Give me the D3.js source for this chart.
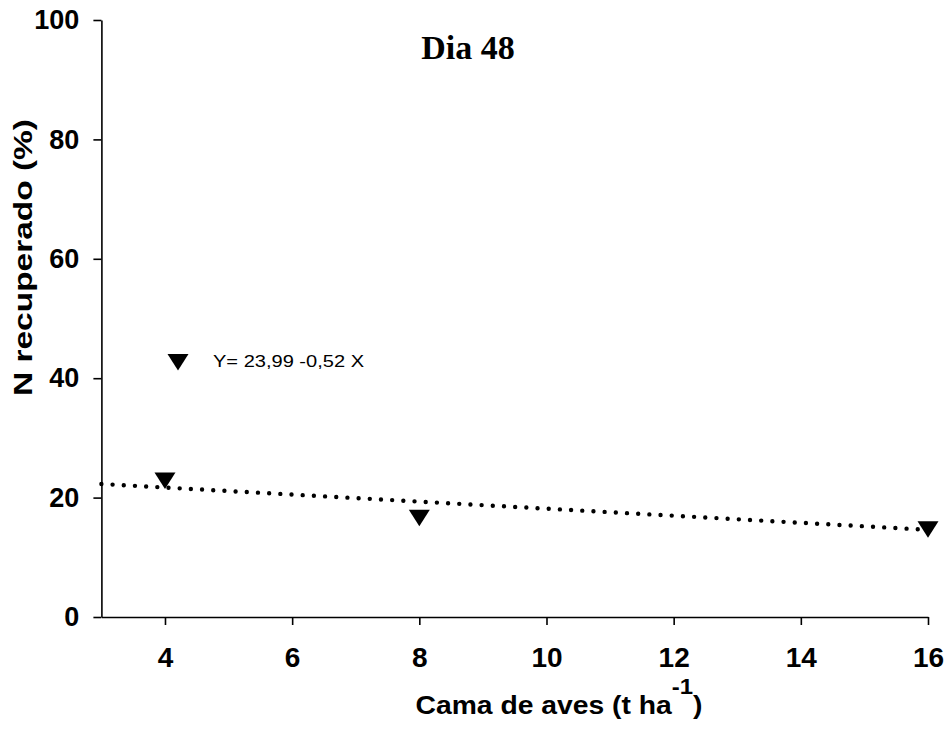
<!DOCTYPE html>
<html>
<head>
<meta charset="utf-8">
<script src="https://cdn.jsdelivr.net/npm/d3@7"></script>
<style>
  body { margin: 0; background: #fff; }
  text { font-family: Arial, "Liberation Sans", sans-serif; }
</style>
</head>
<body>
<div id="chart"></div>
<script>
// Data
const doses = [4, 8, 16];
const recovered = [22.86, 16.63, 14.69];
const trendX = [3, 16];
const trendY = [22.28, 14.6];
const xTicks = [4, 6, 8, 10, 12, 14, 16];
const yTicks = [0, 20, 40, 60, 80, 100];
const equation = "Y= 23,99 -0,52 X";

const width = 949, height = 729;

const svg = d3.select("#chart")
    .append("svg")
    .attr("width", width)
    .attr("height", height);

// Scales
const x = d3.scaleLinear().domain([3, 16]).range([101.4, 928]);
const y = d3.scaleLinear().domain([0, 100]).range([617, 20]);

// X axis
const xAxis = svg.append("g")
    .attr("transform", `translate(0,${y(0)})`)
    .call(d3.axisBottom(x).tickValues(xTicks).tickSize(8).tickSizeOuter(0).tickPadding(22));

// Y axis
const yAxis = svg.append("g")
    .attr("transform", `translate(${x(3)},0)`)
    .call(d3.axisLeft(y).tickValues(yTicks).tickSize(8).tickSizeOuter(0).tickPadding(14));

[xAxis, yAxis].forEach(g => {
    g.selectAll("path, line").attr("stroke", "#000").attr("stroke-width", 1.6);
    g.selectAll("text")
        .attr("fill", "#000")
        .style("font-family", "Arial, 'Liberation Sans', sans-serif")
        .style("font-size", "27px")
        .style("font-weight", "bold");
});
xAxis.selectAll("text").style("font-size", "28px");

// Dotted trend line
svg.append("path")
    .datum(trendX.map((d, i) => [d, trendY[i]]))
    .attr("fill", "none")
    .attr("stroke", "#000")
    .attr("stroke-width", 4.4)
    .attr("stroke-linecap", "round")
    .attr("stroke-dasharray", "0,11.2")
    .attr("d", d3.line().x(d => x(d[0])).y(d => y(d[1])));

// Downward triangle markers
const tri = "M-10.5,-8 L10.5,-8 L0,8.5 Z";
svg.selectAll(".pt")
    .data(doses.map((d, i) => ({ dose: d, value: recovered[i] })))
    .enter()
    .append("path")
    .attr("class", "pt")
    .attr("d", tri)
    .attr("fill", "#000")
    .attr("transform", d => `translate(${x(d.dose)},${y(d.value)})`);

// Legend
svg.append("path")
    .attr("d", tri)
    .attr("fill", "#000")
    .attr("transform", "translate(178,362)");
svg.append("text")
    .attr("x", 213)
    .attr("y", 367)
    .attr("textLength", 151)
    .attr("lengthAdjust", "spacingAndGlyphs")
    .style("font-size", "16px")
    .text(equation);

// Title
svg.append("text")
    .attr("x", 468)
    .attr("y", 59)
    .attr("text-anchor", "middle")
    .style("font-family", "'Times New Roman', 'Liberation Serif', serif")
    .style("font-size", "34px")
    .style("font-weight", "bold")
    .text("Dia 48");

// Y axis label
svg.append("text")
    .attr("transform", "translate(32,257.5) rotate(-90)")
    .attr("text-anchor", "middle")
    .attr("textLength", 277)
    .attr("lengthAdjust", "spacingAndGlyphs")
    .style("font-size", "26px")
    .style("font-weight", "bold")
    .text("N recuperado (%)");

// X axis label with superscript
const xl = svg.append("text")
    .attr("x", 559)
    .attr("y", 714)
    .attr("text-anchor", "middle")
    .attr("textLength", 287)
    .attr("lengthAdjust", "spacingAndGlyphs")
    .style("font-size", "26px")
    .style("font-weight", "bold");
xl.append("tspan").text("Cama de aves (t ha");
xl.append("tspan").attr("dy", -20).style("font-size", "22px").text("-1");
xl.append("tspan").attr("dy", 20).text(")");
</script>
</body>
</html>
